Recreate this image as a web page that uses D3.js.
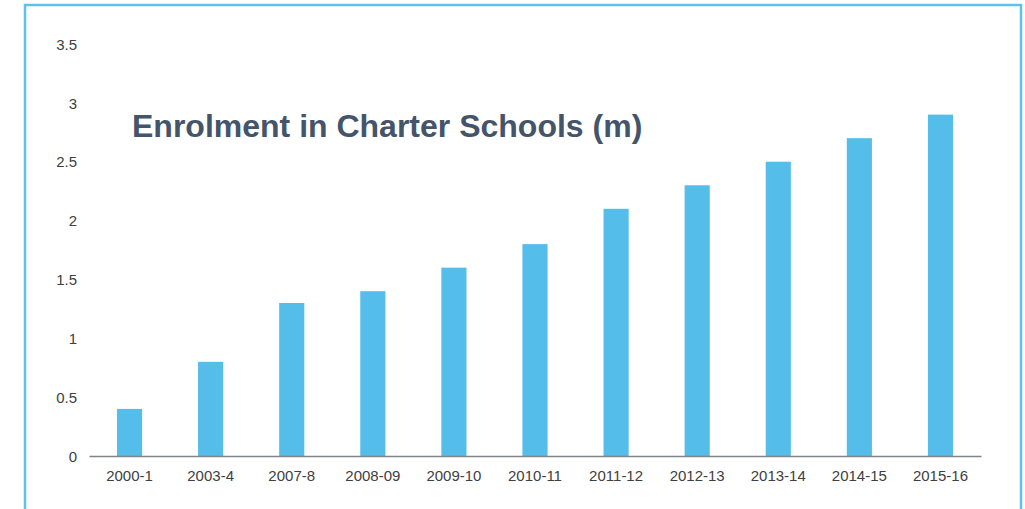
<!DOCTYPE html>
<html>
<head>
<meta charset="utf-8">
<script src="https://cdn.jsdelivr.net/npm/d3@7.9.0/dist/d3.min.js"></script>
<style>
  html, body { margin: 0; padding: 0; background: #fff; }
  svg { display: block; }
  .tick text { font-family: "Liberation Sans", Arial, sans-serif; font-size: 15px; fill: #404040; }
</style>
</head>
<body>
<svg id="chart" width="1025" height="509"></svg>
<script>
// data
const years = ['2000-1', '2003-4', '2007-8', '2008-09', '2009-10', '2010-11',
  '2011-12', '2012-13', '2013-14', '2014-15', '2015-16'];
const enrolment = [0.4, 0.8, 1.3, 1.4, 1.6, 1.8, 2.1, 2.3, 2.5, 2.7, 2.9];
const yTicks = [0, 0.5, 1, 1.5, 2, 2.5, 3, 3.5];

const svg = d3.select('#chart');

// outer frame (open at the bottom)
svg.append('path')
  .attr('d', 'M25,509 V5 H1021 V509')
  .attr('fill', 'none')
  .attr('stroke', '#5bc2ee')
  .attr('stroke-width', 2.5);

const x = d3.scaleBand().domain(years).range([89, 981]).paddingInner(0.69).paddingOuter(0.345);
const y = d3.scaleLinear().domain([0, 3.5]).range([456, 44]);

// bars
svg.append('g')
  .selectAll('rect')
  .data(years)
  .join('rect')
  .attr('x', (d) => x(d))
  .attr('width', x.bandwidth())
  .attr('y', (d, i) => y(enrolment[i]))
  .attr('height', (d, i) => y(0) - y(enrolment[i]))
  .attr('fill', '#55bdea');

// y axis (labels only)
let yAxis = svg.append('g')
  .attr('transform', 'translate(77,0)')
  .call(d3.axisLeft(y).tickValues(yTicks).tickSize(0).tickPadding(0).tickFormat(d3.format('')));
yAxis.select('.domain').remove();
yAxis.selectAll('.tick text').attr('dy', '0.35em');

// x axis
let xAxis = svg.append('g')
  .attr('transform', `translate(0,${y(0)})`)
  .call(d3.axisBottom(x).tickSize(0).tickPadding(14).tickSizeOuter(0));
xAxis.select('.domain').attr('stroke', '#7f8589').attr('stroke-width', 1.5);

// title
svg.append('text')
  .attr('x', 132)
  .attr('y', 137)
  .attr('font-family', '"Liberation Sans", Arial, sans-serif')
  .attr('font-weight', 'bold')
  .attr('font-size', 32)
  .attr('fill', '#44546a')
  .text('Enrolment in Charter Schools (m)');
</script>
</body>
</html>
